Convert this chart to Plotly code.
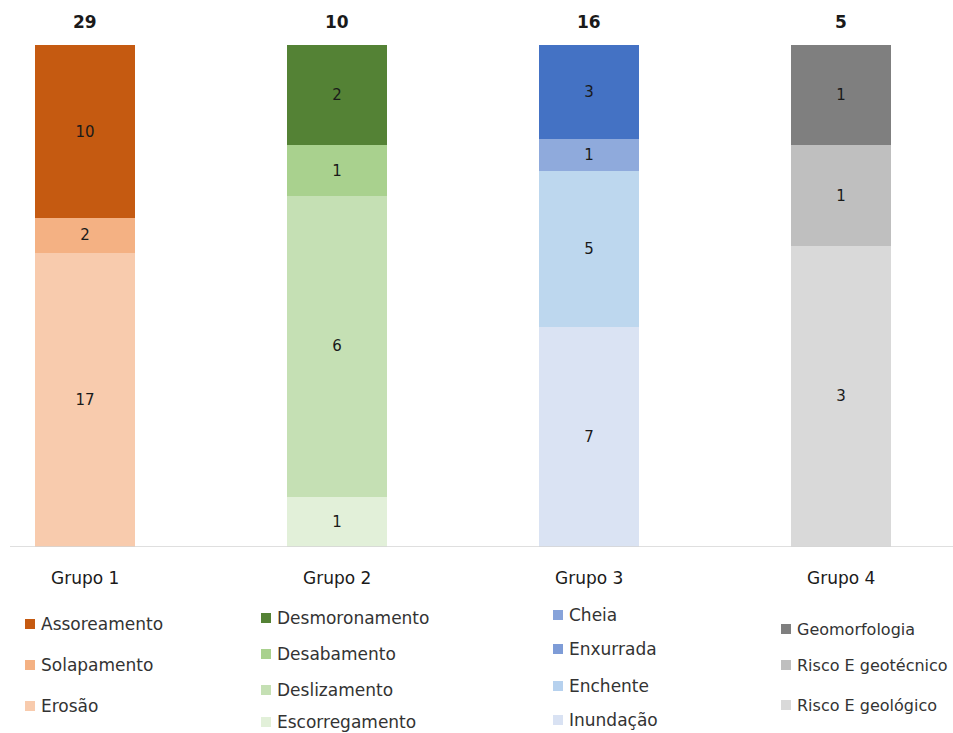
import plotly.graph_objects as go

W, H = 953, 733

groups = ["Grupo 1", "Grupo 2", "Grupo 3", "Grupo 4"]

# segments bottom -> top for each group
g1_names = ["Erosão", "Solapamento", "Assoreamento"]
g1_vals = [17, 2, 10]
g1_cols = ["#f8cbad", "#f4b183", "#c55a11"]

g2_names = ["Escorregamento", "Deslizamento", "Desabamento", "Desmoronamento"]
g2_vals = [1, 6, 1, 2]
g2_cols = ["#e2f0d9", "#c5e0b4", "#a9d18e", "#548235"]

g3_names = ["Inundação", "Enchente", "Enxurrada", "Cheia"]
g3_vals = [7, 5, 1, 3]
g3_cols = ["#dae3f3", "#bdd7ee", "#8faadc", "#4472c4"]
g3_legend_cols = ["#d9e2f3", "#b6d1ee", "#7e9cd7", "#87a3da"]

g4_names = ["Risco E geológico", "Risco E geotécnico", "Geomorfologia"]
g4_vals = [3, 1, 1]
g4_cols = ["#d9d9d9", "#bfbfbf", "#7f7f7f"]

all_names = [g1_names, g2_names, g3_names, g4_names]
all_vals = [g1_vals, g2_vals, g3_vals, g4_vals]
all_cols = [g1_cols, g2_cols, g3_cols, g4_cols]
legend_cols = [g1_cols, g2_cols, g3_legend_cols, g4_cols]

fig = go.Figure()
for gi, (names, vals, cols) in enumerate(zip(all_names, all_vals, all_cols)):
    tot = sum(vals)
    for n, v, c in zip(names, vals, cols):
        fig.add_trace(go.Bar(
            x=[gi], y=[v / tot], name=n,
            marker=dict(color=c, line=dict(width=0)),
            width=100 / 252,
            text=[str(v)], textposition="inside", insidetextanchor="middle",
            textangle=0, constraintext="none",
            textfont=dict(family="DejaVu Sans", size=15, color="#1a1a1a"),
            showlegend=False, hoverinfo="skip",
        ))

# totals on top
for gi, vals in enumerate(all_vals):
    fig.add_annotation(x=gi, y=1, xref="x", yref="y", yanchor="bottom", yshift=11,
                       text="<b>%d</b>" % sum(vals), showarrow=False,
                       font=dict(family="DejaVu Sans", size=17, color="#1a1a1a"))

# category labels
for gi, g in enumerate(groups):
    fig.add_annotation(x=gi, y=0, xref="x", yref="y", yanchor="middle", yshift=-31,
                       text=g, showarrow=False,
                       font=dict(family="DejaVu Sans", size=17, color="#1a1a1a"))

# axis baseline
fig.add_shape(type="line", xref="paper", yref="y", x0=10 / W, x1=1, y0=0, y1=0,
              line=dict(color="#d4d4d4", width=1.5))

# legends (custom, listed top -> bottom, i.e. reversed stacking order)
leg_x = [25, 261, 553, 781]
leg_y = [[624, 665, 706], [618, 654, 690, 722], [615, 649, 686, 720], [629, 665, 705]]
leg_size = [17, 17, 17, 16]
for gi in range(4):
    names = list(reversed(all_names[gi]))
    cols = list(reversed(legend_cols[gi]))
    for k, (n, c) in enumerate(zip(names, cols)):
        py = leg_y[gi][k]
        sx = leg_x[gi]
        fig.add_shape(type="rect", xref="paper", yref="paper",
                      x0=sx / W, x1=(sx + 10) / W,
                      y0=1 - (py + 5) / H, y1=1 - (py - 5) / H,
                      fillcolor=c, line=dict(width=0))
        fig.add_annotation(xref="paper", yref="paper", x=(sx + 14) / W, y=1 - py / H,
                           xanchor="left", yanchor="middle", text=n, showarrow=False,
                           font=dict(family="DejaVu Sans", size=leg_size[gi], color="#333333"))

x0 = -85 / 252
fig.update_layout(
    width=W, height=H, barmode="stack",
    margin=dict(l=0, r=0, t=0, b=0),
    paper_bgcolor="white", plot_bgcolor="white",
    xaxis=dict(range=[x0, x0 + W / 252], domain=[0, 1], showgrid=False,
               zeroline=False, showline=False, showticklabels=False, ticks="",
               fixedrange=True),
    yaxis=dict(range=[0, 1], domain=[(H - 547) / H, (H - 45) / H], showgrid=False,
               zeroline=False, showline=False, showticklabels=False, ticks="",
               fixedrange=True),
    showlegend=False,
)

fig.write_html("out.html")
